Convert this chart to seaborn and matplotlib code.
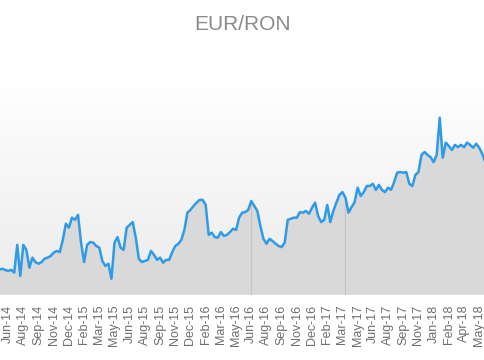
import numpy as np
import pandas as pd
import seaborn as sns
import matplotlib.pyplot as plt
from matplotlib.colors import LinearSegmentedColormap

# EUR/RON Kurs
kurs = [
    4.405, 4.407, 4.405, 4.403, 4.405, 4.400, 4.450, 4.394, 4.450, 4.441,
    4.409, 4.427, 4.419, 4.416, 4.419, 4.425, 4.427, 4.430, 4.436, 4.439,
    4.437, 4.459, 4.488, 4.481, 4.499, 4.495, 4.504, 4.454, 4.419, 4.450,
    4.455, 4.454, 4.448, 4.445, 4.421, 4.412, 4.416, 4.389, 4.454, 4.464,
    4.445, 4.441, 4.481, 4.486, 4.491, 4.463, 4.425, 4.419, 4.421, 4.423,
    4.439, 4.432, 4.423, 4.427, 4.418, 4.423, 4.423, 4.437, 4.448, 4.452,
    4.459, 4.477, 4.508, 4.513, 4.520, 4.526, 4.531, 4.531, 4.522, 4.468,
    4.472, 4.464, 4.463, 4.473, 4.466, 4.468, 4.473, 4.479, 4.477, 4.499,
    4.508, 4.509, 4.513, 4.529, 4.520, 4.511, 4.484, 4.461, 4.452, 4.461,
    4.457, 4.452, 4.448, 4.446, 4.454, 4.495, 4.497, 4.499, 4.499, 4.509,
    4.508, 4.511, 4.506, 4.517, 4.526, 4.502, 4.491, 4.495, 4.522, 4.491,
    4.511, 4.526, 4.540, 4.545, 4.535, 4.508, 4.518, 4.527, 4.553, 4.538,
    4.545, 4.556, 4.556, 4.560, 4.549, 4.558, 4.549, 4.545, 4.553, 4.549,
    4.563, 4.580, 4.581, 4.580, 4.581, 4.560, 4.556, 4.576, 4.581, 4.612,
    4.617, 4.612, 4.608, 4.599, 4.612, 4.679, 4.607, 4.634, 4.628, 4.621,
    4.630, 4.626, 4.630, 4.626, 4.634, 4.630, 4.625, 4.632, 4.625, 4.614,
    4.599,
]
monate = [
    "Jun-14", "Aug-14", "Sep-14", "Nov-14", "Dec-14", "Feb-15", "Mar-15", "May-15",
    "Jun-15", "Aug-15", "Sep-15", "Nov-15", "Dec-15", "Feb-16", "Mar-16", "May-16",
    "Jun-16", "Aug-16", "Sep-16", "Nov-16", "Dec-16", "Feb-17", "Mar-17", "May-17",
    "Jun-17", "Aug-17", "Sep-17", "Nov-17", "Jan-18", "Feb-18", "Apr-18", "May-18",
]
markierungen = [83, 114]  # Punkte mit senkrechter Linie

df = pd.DataFrame({"punkt": np.arange(len(kurs)), "kurs": kurs})

sns.set_theme(style="white")
plt.rcParams["font.family"] = ["Liberation Sans", "DejaVu Sans"]

fig = plt.figure(figsize=(4.85, 3.6), dpi=100)
ax = fig.add_axes([0, 0.181, 1, 0.597])

y_min, y_max = 4.36, 4.747
x_min, x_max = 0.33, 159.9

# Hintergrund-Verlauf (oben weiss, unten hellgrau)
verlauf = LinearSegmentedColormap.from_list("bg", ["#ffffff", "#ebebeb"])
ax.imshow(np.linspace(0, 1, 256).reshape(-1, 1), cmap=verlauf, aspect="auto",
          extent=[x_min, x_max, y_min, y_max], origin="upper", zorder=0)

ax.fill_between(df["punkt"], y_min, df["kurs"], color="#d9d9d9", zorder=1, linewidth=0)
ax.vlines(markierungen, y_min, [kurs[i] for i in markierungen], color="#c4c4c4",
          linewidth=0.8, zorder=1.5)
sns.lineplot(x="punkt", y="kurs", data=df, ax=ax, color="#2e9be6", linewidth=1.8, zorder=2)

ax.set_xlim(x_min, x_max)
ax.set_ylim(y_min, y_max)
ax.set_xticks(np.arange(len(monate)) * 5 + 3)
ax.set_xticklabels(monate, rotation=90, fontsize=9, color="#6e6e6e")
ax.tick_params(axis="x", length=0, pad=7)
ax.set_yticks([])
ax.set_xlabel("")
ax.set_ylabel("")
for s in ax.spines.values():
    s.set_visible(False)

fig.text(0.5, 1 - 24 / 360, "EUR/RON", ha="center", va="center", fontsize=15, color="#8a8a8a")

plt.savefig("out.png", dpi=100)
plt.close()
